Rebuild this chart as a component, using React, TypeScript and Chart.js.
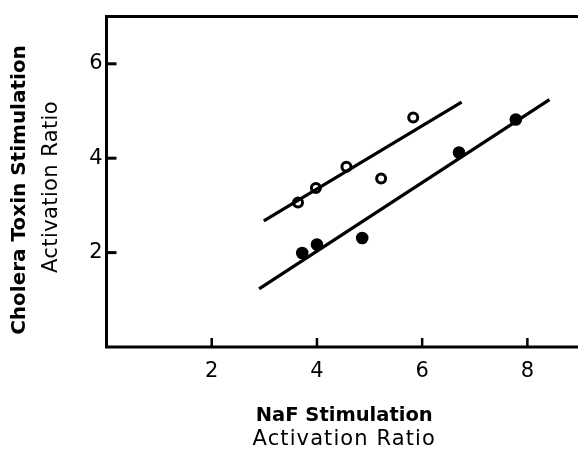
import React, { useEffect, useRef } from "react";
import { Chart, registerables } from "chart.js";

Chart.register(...registerables);

// Open circles
const openX = [3.64, 3.98, 4.56, 5.22, 5.83];
const openY = [3.06, 3.37, 3.82, 3.57, 4.86];
// Filled circles
const filledX = [3.72, 4.0, 4.86, 6.7, 7.78];
const filledY = [1.99, 2.17, 2.31, 4.12, 4.82];
// Fitted lines (endpoints)
const openLineX = [2.99, 6.75];
const openLineY = [2.67, 5.19];
const filledLineX = [2.9, 8.42];
const filledLineY = [1.23, 5.24];

const xTicks = [2, 4, 6, 8];
const yTicks = [2, 4, 6];
const xTitle = ["NaF Stimulation", "Activation Ratio"];
const yTitle = ["Cholera Toxin Stimulation", "Activation Ratio"];

const FONT = "'DejaVu Sans', sans-serif";

const toPts = (xs: number[], ys: number[]) => xs.map((x, i) => ({ x, y: ys[i] }));

const framePlugin = {
  id: "frame",
  afterDraw(chart: any) {
    const { ctx, chartArea } = chart;
    const { left, right, top, bottom } = chartArea;
    const xs = chart.scales.x;
    const ys = chart.scales.y;
    ctx.save();
    ctx.strokeStyle = "#000";
    ctx.lineCap = "square";
    ctx.lineWidth = 3;
    ctx.beginPath();
    ctx.moveTo(right + 5, top);
    ctx.lineTo(left, top);
    ctx.lineTo(left, bottom);
    ctx.lineTo(right + 5, bottom);
    ctx.stroke();
    ctx.lineCap = "butt";
    ctx.lineWidth = 3;
    yTicks.forEach((v) => {
      const p = ys.getPixelForValue(v);
      ctx.beginPath();
      ctx.moveTo(left, p);
      ctx.lineTo(left + 10, p);
      ctx.stroke();
    });
    ctx.lineWidth = 2.5;
    xTicks.forEach((v) => {
      const p = xs.getPixelForValue(v);
      ctx.beginPath();
      ctx.moveTo(p, bottom);
      ctx.lineTo(p, bottom - 9);
      ctx.stroke();
    });

    // Titles
    ctx.fillStyle = "#000";
    ctx.textAlign = "center";
    ctx.textBaseline = "middle";
    const cx = (left + right) / 2 + 1;
    ctx.font = `bold 19.5px ${FONT}`;
    (ctx as any).letterSpacing = "0px";
    ctx.fillText(xTitle[0], cx, 416);
    ctx.font = `21px ${FONT}`;
    (ctx as any).letterSpacing = "1.1px";
    ctx.fillText(xTitle[1], cx, 440);

    ctx.save();
    ctx.translate(20, 190);
    ctx.rotate(-Math.PI / 2);
    ctx.font = `bold 20px ${FONT}`;
    (ctx as any).letterSpacing = "0px";
    ctx.fillText(yTitle[0], 0, 0);
    ctx.restore();

    ctx.save();
    ctx.translate(52, 187);
    ctx.rotate(-Math.PI / 2);
    ctx.font = `21px ${FONT}`;
    (ctx as any).letterSpacing = "0.4px";
    ctx.fillText(yTitle[1], 0, 0);
    ctx.restore();

    ctx.restore();
  },
};

export default function App() {
  const ref = useRef<HTMLCanvasElement | null>(null);

  useEffect(() => {
    if (!ref.current) return;
    const chart = new Chart(ref.current, {
      type: "scatter",
      data: {
        datasets: [
          {
            type: "line",
            data: toPts(openLineX, openLineY),
            borderColor: "#000",
            borderWidth: 3.2,
            pointRadius: 0,
            fill: false,
          } as any,
          {
            type: "line",
            data: toPts(filledLineX, filledLineY),
            borderColor: "#000",
            borderWidth: 3.2,
            pointRadius: 0,
            fill: false,
          } as any,
          {
            data: toPts(openX, openY),
            pointRadius: 4.5,
            pointBorderWidth: 3,
            pointBorderColor: "#000",
            pointBackgroundColor: "#fff",
          },
          {
            data: toPts(filledX, filledY),
            pointRadius: 6.3,
            pointBorderWidth: 0,
            pointBackgroundColor: "#000",
            pointBorderColor: "#000",
          },
        ],
      },
      options: {
        responsive: false,
        animation: false,
        devicePixelRatio: 1,
        layout: { padding: { top: 12, right: 10, left: 0, bottom: 0 } },
        plugins: {
          legend: { display: false },
          tooltip: { enabled: false },
          title: { display: false },
        },
        scales: {
          x: {
            type: "linear",
            min: 0,
            max: 9,
            grid: { display: false, drawTicks: false },
            border: { display: false },
            afterFit: (s: any) => {
              s.height = 107;
            },
            afterBuildTicks: (s: any) => {
              s.ticks = xTicks.map((v) => ({ value: v }));
            },
            ticks: {
              padding: 12,
              color: "#000",
              font: { family: FONT, size: 21 },
              maxRotation: 0,
            },
          },
          y: {
            type: "linear",
            min: 0,
            max: 7,
            grid: { display: false, drawTicks: false },
            border: { display: false },
            afterFit: (s: any) => {
              s.width = 106.5;
            },
            afterBuildTicks: (s: any) => {
              s.ticks = yTicks.map((v) => ({ value: v }));
            },
            ticks: {
              padding: 4,
              color: "#000",
              font: { family: FONT, size: 21 },
            },
          },
        },
      },
      plugins: [framePlugin],
    });
    return () => chart.destroy();
  }, []);

  return (
    <div
      style={{
        position: "fixed",
        left: 0,
        top: 0,
        width: 578,
        height: 454,
        overflow: "hidden",
        background: "#fff",
      }}
    >
      <canvas ref={ref} width={590} height={454} style={{ width: 590, height: 454, display: "block" }} />
    </div>
  );
}
